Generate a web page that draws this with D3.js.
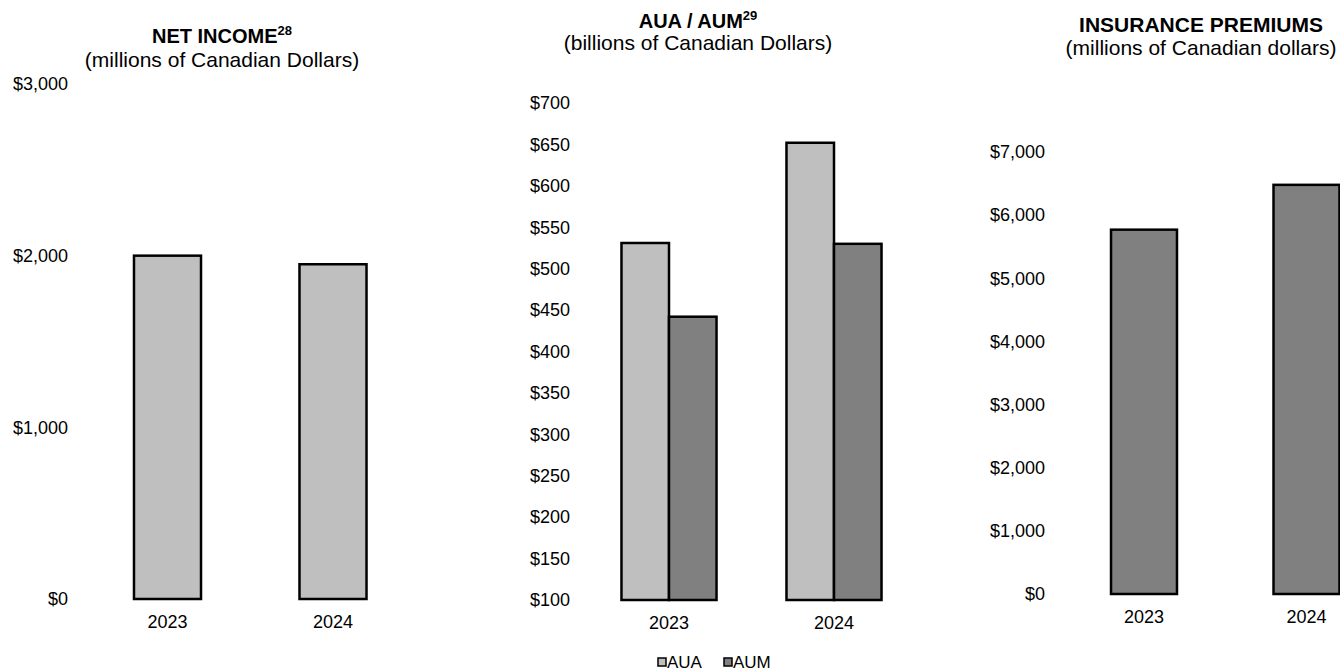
<!DOCTYPE html>
<html lang="en">
<head>
    <meta charset="UTF-8">
    <title>Net Income, AUA / AUM, Insurance Premiums</title>
    <script src="https://d3js.org/d3.v7.min.js"></script>
    <style>
        body {
            margin: 0;
            padding: 0;
            background: #ffffff;
            font-family: "Liberation Sans", Arial, sans-serif;
        }
        svg text {
            fill: #000;
        }
    </style>
</head>
<body>
    <svg id="chart"></svg>

    <script>
        // Data
        const years = ["2023", "2024"];
        const netIncome = [2000, 1950];
        const netIncomeTicks = [0, 1000, 2000, 3000];

        const seriesNames = ["AUA", "AUM"];
        const aua = [531, 652];
        const aum = [442, 530];
        const auaTicks = [100, 150, 200, 250, 300, 350, 400, 450, 500, 550, 600, 650, 700];

        const premiums = [5770, 6480];
        const premiumTicks = [0, 1000, 2000, 3000, 4000, 5000, 6000, 7000];

        const light = "#bfbfbf";
        const dark = "#808080";
        const fmt = d3.format("$,");

        const width = 1340;
        const height = 672;

        const svg = d3.select("#chart")
            .attr("width", width)
            .attr("height", height);

        // helper: title with superscript
        function addTitle(cx, y, main, sup, size, subY, sub) {
            const t = svg.append("text")
                .attr("x", cx)
                .attr("y", y)
                .attr("text-anchor", "middle")
                .style("font-weight", "bold")
                .style("font-size", size + "px");
            t.append("tspan").text(main);
            if (sup) {
                t.append("tspan")
                    .attr("dy", -8)
                    .style("font-size", "13px")
                    .text(sup);
            }
            svg.append("text")
                .attr("x", cx)
                .attr("y", subY)
                .attr("text-anchor", "middle")
                .style("font-size", "21px")
                .text(sub);
        }

        function yAxis(g, scale, ticks) {
            g.call(d3.axisLeft(scale)
                    .tickValues(ticks)
                    .tickSize(0)
                    .tickPadding(0)
                    .tickFormat(fmt))
                .call(a => a.select(".domain").remove())
                .selectAll("text")
                .style("font-size", "18px")
                .style("font-family", "'Liberation Sans', Arial, sans-serif");
        }

        function xAxis(g, scale) {
            g.call(d3.axisBottom(scale)
                    .tickSize(0)
                    .tickPadding(16))
                .call(a => a.select(".domain").remove())
                .selectAll("text")
                .style("font-size", "18px")
                .style("font-family", "'Liberation Sans', Arial, sans-serif");
        }

        // ---------- Chart 1: Net income ----------
        const x1 = d3.scaleBand().domain(years).range([84.75, 415.75]);
        const y1 = d3.scaleLinear().domain([0, 3000]).range([599, 84]);
        const bw1 = x1.bandwidth() * 0.405;

        addTitle(222, 43, "NET INCOME", "28", 20, 67, "(millions of Canadian Dollars)");

        svg.append("g").attr("transform", "translate(68,0)")
            .call(g => yAxis(g, y1, netIncomeTicks));

        svg.append("g")
            .selectAll("rect")
            .data(netIncome)
            .join("rect")
            .attr("x", (d, i) => x1(years[i]) + (x1.bandwidth() - bw1) / 2)
            .attr("y", d => y1(d))
            .attr("width", bw1)
            .attr("height", d => y1(0) - y1(d))
            .attr("fill", light)
            .attr("stroke", "#000")
            .attr("stroke-width", 2.5);

        svg.append("g").attr("transform", `translate(0,${y1(0)})`)
            .call(g => xAxis(g, x1));

        // ---------- Chart 2: AUA / AUM ----------
        const x2 = d3.scaleBand().domain(years).range([586.5, 916.5]);
        const groupW = x2.bandwidth() * 0.576;
        const xs = d3.scaleBand().domain(seriesNames).range([0, groupW]);
        const y2 = d3.scaleLinear().domain([100, 700]).range([600, 103]);
        const color2 = d3.scaleOrdinal().domain(seriesNames).range([light, dark]);

        addTitle(698, 28, "AUA / AUM", "29", 20, 50, "(billions of Canadian Dollars)");

        svg.append("g").attr("transform", "translate(570,0)")
            .call(g => yAxis(g, y2, auaTicks));

        const auData = years.map((yr, i) => ({
            year: yr,
            values: [{ key: "AUA", value: aua[i] }, { key: "AUM", value: aum[i] }]
        }));

        svg.append("g")
            .selectAll("g")
            .data(auData)
            .join("g")
            .attr("transform", d => `translate(${x2(d.year) + (x2.bandwidth() - groupW) / 2},0)`)
            .selectAll("rect")
            .data(d => d.values)
            .join("rect")
            .attr("x", d => xs(d.key))
            .attr("y", d => y2(d.value))
            .attr("width", xs.bandwidth())
            .attr("height", d => y2(100) - y2(d.value))
            .attr("fill", d => color2(d.key))
            .attr("stroke", "#000")
            .attr("stroke-width", 2.5);

        svg.append("g").attr("transform", `translate(0,${y2(100)})`)
            .call(g => xAxis(g, x2));

        // legend
        const legend = svg.append("g").attr("transform", "translate(658,658)");
        const legendX = [0, 66];
        seriesNames.forEach((name, i) => {
            const item = legend.append("g").attr("transform", `translate(${legendX[i]},0)`);
            item.append("rect")
                .attr("width", 8)
                .attr("height", 8)
                .attr("fill", color2(name))
                .attr("stroke", "#000")
                .attr("stroke-width", 1.5);
            item.append("text")
                .attr("x", 9)
                .attr("y", 10)
                .style("font-size", "17px")
                .text(name);
        });

        // ---------- Chart 3: Insurance premiums ----------
        const x3 = d3.scaleBand().domain(years).range([1062.75, 1387.75]);
        const y3 = d3.scaleLinear().domain([0, 7000]).range([594, 152]);
        const bw3 = x3.bandwidth() * 0.406;

        addTitle(1201, 32, "INSURANCE PREMIUMS", null, 21, 55, "(millions of Canadian dollars)");

        svg.append("g").attr("transform", "translate(1045,0)")
            .call(g => yAxis(g, y3, premiumTicks));

        svg.append("g")
            .selectAll("rect")
            .data(premiums)
            .join("rect")
            .attr("x", (d, i) => x3(years[i]) + (x3.bandwidth() - bw3) / 2)
            .attr("y", d => y3(d))
            .attr("width", bw3)
            .attr("height", d => y3(0) - y3(d))
            .attr("fill", dark)
            .attr("stroke", "#000")
            .attr("stroke-width", 2.5);

        svg.append("g").attr("transform", `translate(0,${y3(0)})`)
            .call(g => xAxis(g, x3));
    </script>
</body>
</html>
